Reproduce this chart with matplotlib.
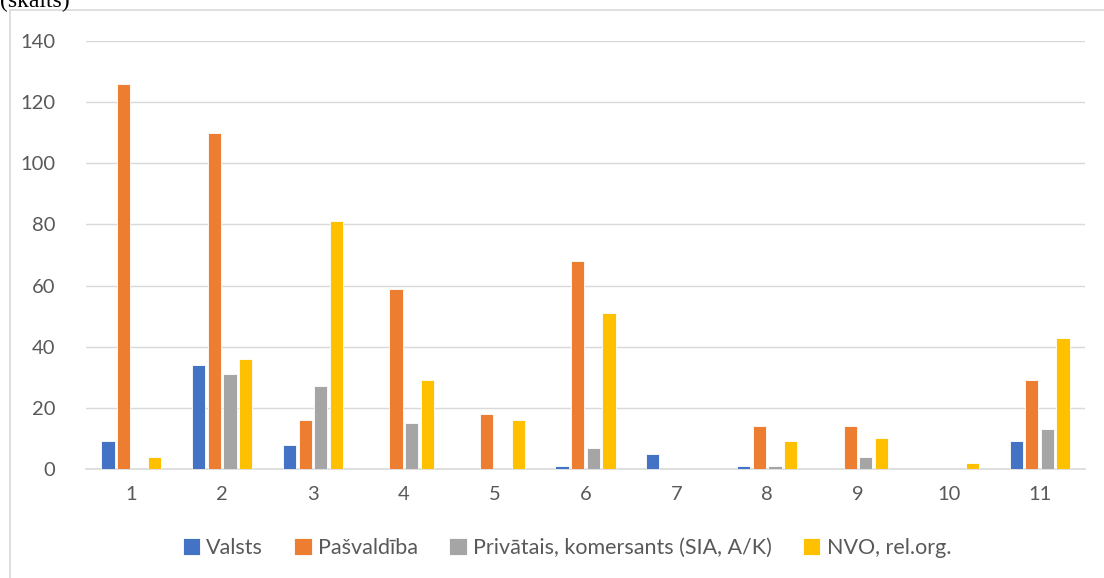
import numpy as np
import matplotlib
matplotlib.use("Agg")
import matplotlib.pyplot as plt
from matplotlib.patches import Rectangle

categories = ["1", "2", "3", "4", "5", "6", "7", "8", "9", "10", "11"]
series_names = ["Valsts", "Pašvaldība", "Privātais, komersants (SIA, A/K)", "NVO, rel.org."]
valsts = [9, 34, 8, 0, 0, 1, 5, 1, 0, 0, 9]
pasvaldiba = [126, 110, 16, 59, 18, 68, 0, 14, 14, 0, 29]
privatais = [0, 31, 27, 15, 0, 7, 0, 1, 4, 0, 13]
nvo = [4, 36, 81, 29, 16, 51, 0, 9, 10, 2, 43]
colors = ["#4472C4", "#ED7D31", "#A5A5A5", "#FFC000"]

plt.rcParams["font.family"] = ["Lato", "DejaVu Sans"]

fig = plt.figure(figsize=(11.04, 5.78), dpi=100)
ax = fig.add_axes([86 / 1104, 1 - 469 / 578, (1085 - 86) / 1104, (469 - 41) / 578])

x = np.arange(len(categories))
slot = 0.172
width = 0.145
handles = []
for i, (vals, name) in enumerate(zip([valsts, pasvaldiba, privatais, nvo], series_names)):
    b = ax.bar(x + (i - 1.5) * slot, vals, width, color=colors[i], label=name,
               edgecolor="white", linewidth=0.6, zorder=3)
    handles.append(b)

ax.set_xlim(-0.5, len(categories) - 0.5)
ax.set_ylim(0, 140)
ax.set_yticks(range(0, 141, 20))
ax.set_xticks(x)
ax.set_xticklabels(categories)
ax.yaxis.grid(True, color="#d9d9d9", linewidth=1, zorder=0)
for s in ["top", "right", "left"]:
    ax.spines[s].set_visible(False)
ax.spines["bottom"].set_color("#d9d9d9")
ax.spines["bottom"].set_linewidth(1.2)
ax.tick_params(axis="both", length=0, labelsize=14.5, labelcolor="#595959")
ax.tick_params(axis="x", pad=12)
ax.tick_params(axis="y", pad=22)

fig.legend(handles=handles, loc="center", bbox_to_anchor=(567 / 1104, 1 - 548 / 578),
           ncol=4, frameon=False, fontsize=15.5, labelcolor="#595959",
           handlelength=0.8, handleheight=0.8, handletextpad=0.3, columnspacing=1.45)

# chart frame
fig.patches.append(Rectangle((10 / 1104, -0.01), 1.1, 1 - 10 / 578 + 0.01,
                             transform=fig.transFigure, fill=False,
                             edgecolor="#d9d9d9", linewidth=1.2))
fig.text(0.0, 1 - 1 / 578, "(skaits)", family="Liberation Serif", fontsize=17,
         va="center", ha="left", color="black")

fig.savefig("out.png", dpi=100)
